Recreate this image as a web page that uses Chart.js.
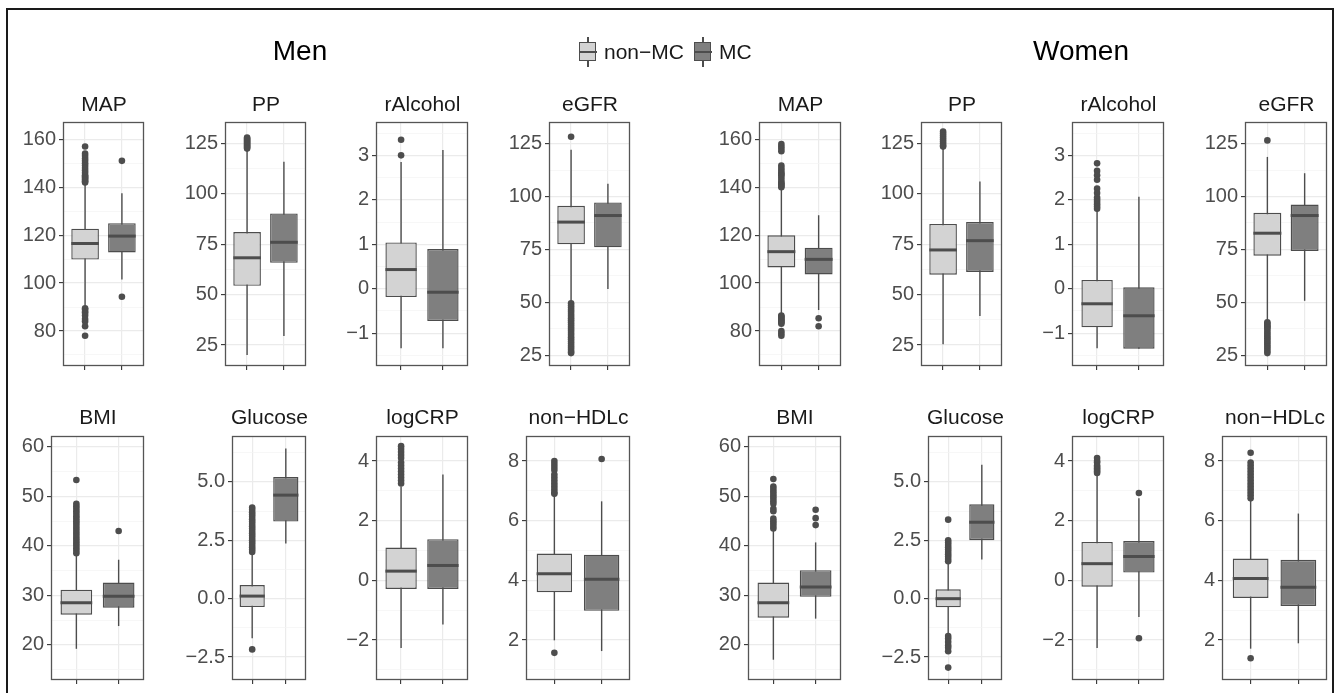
<!DOCTYPE html>
<html><head><meta charset="utf-8">
<script src="https://cdn.jsdelivr.net/npm/chart.js@4"></script>
<style>
html,body{margin:0;padding:0;background:#fff}
body{width:1340px;height:693px;overflow:hidden;position:relative;font-family:'Liberation Sans',Arial,Helvetica,sans-serif}
.frame{position:absolute;left:6px;top:8px;width:1324px;height:720px;border:2px solid #1a1a1a}
canvas{position:absolute}
.t{position:absolute;white-space:nowrap;transform:translateX(-50%);color:#1a1a1a;line-height:20px;font-size:21px}
.main{position:absolute;white-space:nowrap;transform:translateX(-50%);color:#000;font-size:28px;line-height:30px}
.lt{position:absolute;font-size:21px;line-height:20px;color:#1a1a1a;white-space:nowrap}
.key{position:absolute;width:18px;height:30px}
.key .w{position:absolute;left:8.3px;width:1.4px;top:0;height:30px;background:#4d4d4d}
.key .b{position:absolute;left:0;top:5px;width:15.4px;height:17.4px;border:1.3px solid #4d4d4d}
.key .m{position:absolute;left:0;top:13.8px;width:18px;height:2.4px;background:#4d4d4d}
</style></head>
<body>
<div class="frame"></div>
<script>
// ---------- data ----------
const variables = ['MAP','PP','rAlcohol','eGFR','BMI','Glucose','logCRP','non\u2212HDLc'];
const groups = ['non\u2212MC','MC'];
const sexes = ['Men','Women'];

const yMin = [65.4, 14.6, -1.74, 19.9, 12.9, -3.48, -3.34, 0.66];
const yMax = [167.2, 135.7, 3.75, 135.2, 62.2, 6.96, 4.84, 8.84];
const tickValues = [[80,100,120,140,160],[25,50,75,100,125],[-1,0,1,2,3],[25,50,75,100,125],[20,30,40,50,60],[-2.5,0,2.5,5],[-2,0,2,4],[2,4,6,8]];
const tickLabels = [['80','100','120','140','160'],['25','50','75','100','125'],['\u22121','0','1','2','3'],['25','50','75','100','125'],['20','30','40','50','60'],['\u22122.5','0.0','2.5','5.0'],['\u22122','0','2','4'],['2','4','6','8']];

// Men: [non-MC, MC] per variable
const menWhiskerLow  = [[90.5,101.5],[20,29.5],[-1.34,-1.34],[50.5,56.3],[19.2,23.8],[-1.69,2.36],[-2.27,-1.48],[1.99,1.63]];
const menQ1          = [[109.8,112.8],[54.4,65.8],[-0.19,-0.73],[77.4,76],[26.1,27.5],[-0.36,3.3],[-0.29,-0.29],[3.6,2.98]];
const menMedian      = [[116.5,119.6],[68.3,76],[0.43,-0.08],[87.9,91],[28.5,29.8],[0.11,4.43],[0.31,0.5],[4.22,4.04]];
const menQ3          = [[122.7,125],[81.1,90.3],[1.04,0.89],[95.6,97.2],[31.15,32.6],[0.58,5.21],[1.1,1.38],[4.9,4.86]];
const menWhiskerHigh = [[141.5,137.5],[122,116],[2.85,3.12],[122.1,106],[38,37.2],[1.9,6.42],[3.15,3.55],[6.85,6.65]];
const menOutliersNonMC = [
  [157,154,153,152,151,150,149,148,147,146,145,144.5,144,143.5,143,142.5,142,89.5,89,88,87.5,86.5,85,84,82,78],
  [128,127.5,127,126.5,126,125.5,125,124.5,124,123.5,123,122.5],
  [3.35,3.0],
  [128.2,49.5,48.5,47.5,46.5,45.5,44.5,43.5,42.5,41.5,40.5,39.5,38.5,37.5,36.5,35.5,34.5,33.5,32.5,31.5,30.5,29.5,28.5,27.5,26.5,26],
  [53.3,48.5,48,47.5,47,46.5,46,45.5,45,44.5,44,43.5,43,42.5,42,41.5,41,40.5,40,39.5,39,38.5],
  [3.9,3.8,3.7,3.6,3.5,3.4,3.3,3.2,3.1,3.0,2.9,2.8,2.7,2.6,2.5,2.4,2.3,2.2,2.1,2.0,-2.17],
  [4.5,4.4,4.3,4.2,4.1,3.95,3.85,3.75,3.65,3.55,3.45,3.35,3.25],
  [8.0,7.9,7.8,7.7,7.55,7.45,7.35,7.25,7.15,7.05,6.95,6.9,1.57]
];
const menOutliersMC = [[151,94.3],[],[],[],[43],[],[],[8.07]];

// Women: [non-MC, MC] per variable
const womenWhiskerLow  = [[87,88.75],[25.4,39.4],[-1.34,-1.35],[41.5,50.7],[17,25.3],[-1.5,1.68],[-2.27,-1.23],[1.71,1.89]];
const womenQ1          = [[106.5,103.6],[59.9,61.3],[-0.87,-1.35],[72,74.3],[25.5,29.7],[-0.37,2.5],[-0.21,0.26],[3.41,3.14]];
const womenMedian      = [[113.1,109.9],[72.2,76.8],[-0.34,-0.61],[82.65,91],[28.5,31.7],[0.0,3.27],[0.56,0.8],[4.06,3.77]];
const womenQ3          = [[119.9,114.75],[85.1,86.1],[0.196,0.03],[92.3,96.2],[32.6,35.1],[0.4,4.04],[1.29,1.32],[4.73,4.69]];
const womenWhiskerHigh = [[139.5,128.3],[122.5,106.2],[1.75,2.07],[118.7,111],[43,40.7],[1.5,5.73],[3.55,2.75],[6.7,6.24]];
const womenOutliersNonMC = [
  [158,157,156,155,149,148,147,146,145.5,145,144,143,142,141.5,141,140.5,140,86.5,86,85.5,85,84.5,84,83.5,83,80,79,78],
  [131,130,129,128,127,126,125,124,123.5],
  [2.82,2.65,2.55,2.45,2.25,2.15,2.05,2.0,1.95,1.9,1.85,1.8],
  [126.5,40.5,40,39,38.5,38,37,36,35,34,33,32,31,30,29,28,27,26],
  [53.5,52,51.5,51,50.5,50,49.5,49,48.5,47.5,47,45.5,45,44.5,44,43.5],
  [3.38,2.5,2.4,2.3,2.2,2.1,2.0,1.9,1.8,1.7,1.6,-1.6,-1.7,-1.85,-2.0,-2.1,-2.25,-2.95],
  [4.1,4.0,3.95,3.85,3.8,3.75,3.7,3.65,3.6],
  [8.28,7.95,7.85,7.75,7.65,7.55,7.45,7.35,7.25,7.15,7.05,6.95,6.85,6.75,1.39]
];
const womenOutliersMC = [[85.3,82],[],[],[],[47.3,45.6,44.2],[],[2.93,-1.94],[]];

// ---------- layout / style ----------
const FONT = "'Liberation Sans', Arial, Helvetica, sans-serif";
const FILLS = ['#D3D3D3', '#7F7F7F'];
const LINE = '#4d4d4d';
const BOXW = 0.75;
const YW = 62, XH = 10, PADT = 14, PADR = 3;
const rowY = [[122, 366], [436, 680]];
const titleTop = [94, 407];
const plotX = [
  [[63,145],[225,307],[376,469],[549,631],[51,145],[232,307],[376,469],[526,631]],
  [[759,842],[921,1003],[1072,1165],[1245,1328],[748,842],[928,1003],[1072,1165],[1222,1328]]
];
const statSets = [
  {wLo: menWhiskerLow, q1: menQ1, med: menMedian, q3: menQ3, wHi: menWhiskerHigh, outA: menOutliersNonMC, outB: menOutliersMC},
  {wLo: womenWhiskerLow, q1: womenQ1, med: womenMedian, q3: womenQ3, wHi: womenWhiskerHigh, outA: womenOutliersNonMC, outB: womenOutliersMC}
];

const panelBorder = {
  id: 'panelBorder',
  afterDraw(chart) {
    const a = chart.chartArea, ctx = chart.ctx;
    ctx.save();
    ctx.strokeStyle = '#555';
    ctx.lineWidth = 1.3;
    ctx.strokeRect(Math.round(a.left) + 0.5, Math.round(a.top) + 0.5, Math.round(a.right - a.left) - 1, Math.round(a.bottom - a.top) - 1);
    ctx.restore();
  }
};

function addText(cls, text, left, top) {
  const d = document.createElement('div');
  d.className = cls; d.textContent = text;
  d.style.left = left + 'px'; d.style.top = top + 'px';
  document.body.appendChild(d);
  return d;
}

function buildPanel(si, vi) {
  const stats = statSets[si];
  const row = vi < 4 ? 0 : 1;
  const [L, R] = plotX[si][vi];
  const [T, B] = rowY[row];
  const W = YW + (R - L) + PADR, H = PADT + (B - T) + XH;
  const cv = document.createElement('canvas');
  cv.width = W; cv.height = H;
  cv.style.left = (L - YW) + 'px'; cv.style.top = (T - PADT) + 'px';
  cv.style.width = W + 'px'; cv.style.height = H + 'px';
  document.body.appendChild(cv);

  addText('t', variables[vi], (L + R) / 2, titleTop[row]);

  const majors = tickValues[vi], labels = tickLabels[vi];
  const step = majors[1] - majors[0];
  const cand = [majors[0] - step / 2];
  majors.forEach(m => { cand.push(m); cand.push(m + step / 2); });
  const tickObjs = cand.filter(v => v > yMin[vi] && v < yMax[vi]).map(v => {
    const mi = majors.indexOf(v);
    return {value: v, major: mi >= 0, label: mi >= 0 ? labels[mi] : ''};
  });

  const xs = [1, 2];
  const whisk = xs.map((x, g) => ({x, y: [stats.wLo[vi][g], stats.wHi[vi][g]]}));
  const box = xs.map((x, g) => ({x, y: [stats.q1[vi][g], stats.q3[vi][g]]}));
  const med = xs.map((x, g) => ({x, y: stats.med[vi][g]}));
  const outl = stats.outA[vi].map(y => ({x: 1, y})).concat(stats.outB[vi].map(y => ({x: 2, y})));

  new Chart(cv, {
    type: 'bar',
    data: {
      datasets: [
        {type: 'bar', data: whisk, grouped: false, maxBarThickness: 1.4, backgroundColor: LINE, borderWidth: 0, order: 3},
        {type: 'bar', data: box, grouped: false, barPercentage: BOXW, categoryPercentage: 1,
         backgroundColor: FILLS, borderColor: LINE, borderWidth: 1.4, borderSkipped: false, order: 2},
        {type: 'scatter', data: med, showLine: false, pointStyle: 'line', pointBorderWidth: 3,
         pointBorderColor: LINE, pointBackgroundColor: LINE,
         pointRadius: ctx => {
           const s = ctx.chart.scales.x;
           return Math.abs(s.getPixelForValue(1 + BOXW / 2) - s.getPixelForValue(1));
         }, order: 1},
        {type: 'scatter', data: outl, showLine: false, pointStyle: 'circle', pointRadius: 3.3,
         pointBackgroundColor: LINE, pointBorderWidth: 0, order: 0}
      ]
    },
    options: {
      responsive: false, animation: false, events: [],
      layout: {padding: {top: PADT, right: PADR, left: 0, bottom: 0}},
      plugins: {legend: {display: false}, tooltip: {enabled: false}, title: {display: false}},
      scales: {
        x: {
          type: 'linear', min: 0.4, max: 2.6, offset: false,
          afterBuildTicks: s => { s.ticks = xs.map(v => ({value: v})); },
          afterFit: s => { s.height = XH; s.paddingLeft = 0; s.paddingRight = 0; },
          ticks: {autoSkip: false, maxRotation: 0, callback: () => '', font: {family: FONT, size: 4}},
          grid: {offset: false, color: '#ebebeb', lineWidth: 1.2, tickColor: '#333', tickLength: 4, tickWidth: 1.1},
          border: {display: false}
        },
        y: {
          type: 'linear', min: yMin[vi], max: yMax[vi],
          afterBuildTicks: s => { s.ticks = tickObjs.map(t => ({value: t.value})); },
          afterFit: s => { s.width = YW; s.paddingTop = 0; s.paddingBottom = 0; },
          ticks: {autoSkip: false, padding: 3, color: '#4d4d4d', font: {family: FONT, size: 20},
                  callback: (v, i) => tickObjs[i] ? tickObjs[i].label : ''},
          grid: {
            color: c => (tickObjs[c.index] && tickObjs[c.index].major) ? '#ebebeb' : '#f4f4f4',
            lineWidth: c => (tickObjs[c.index] && tickObjs[c.index].major) ? 1.2 : 0.7,
            tickColor: c => (tickObjs[c.index] && tickObjs[c.index].major) ? '#333' : 'rgba(0,0,0,0)',
            tickLength: 4, tickWidth: 1.1
          },
          border: {display: false}
        }
      }
    },
    plugins: [panelBorder]
  });
}

for (let si = 0; si < 2; si++) for (let vi = 0; vi < 8; vi++) buildPanel(si, vi);

// main titles
addText('main', sexes[0], 300, 36);
addText('main', sexes[1], 1081, 36);

// legend
function addKey(left, fill) {
  const k = document.createElement('div');
  k.className = 'key'; k.style.left = left + 'px'; k.style.top = '37px';
  k.innerHTML = '<div class="w"></div><div class="b" style="background:' + fill + '"></div><div class="m"></div>';
  document.body.appendChild(k);
}
addKey(579, FILLS[0]);
addText('lt', groups[0], 604, 42);
addKey(694, FILLS[1]);
addText('lt', groups[1], 719, 42);
</script>
</body></html>
